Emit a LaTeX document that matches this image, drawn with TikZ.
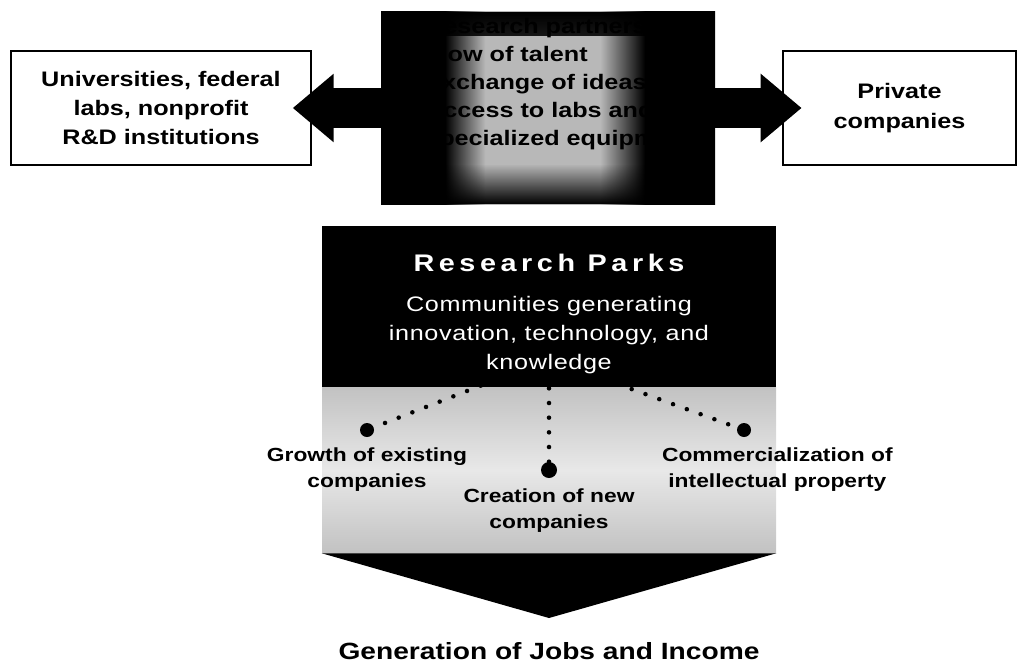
\documentclass[tikz,border=0pt]{standalone}
\usepackage{fontspec}
\setmainfont{Liberation Sans}[FakeStretch=1.2]
\newfontfamily\titlefont{Liberation Sans}[FakeStretch=1.2,LetterSpace=19]
\newfontfamily\subfont{Liberation Sans}[FakeStretch=1.2,LetterSpace=3]
\usetikzlibrary{arrows.meta,positioning,calc,fadings}
\definecolor{glow}{gray}{0.72}
\definecolor{speck}{gray}{0.91}
\definecolor{speckedge}{gray}{0.76}
\pgfdeclarehorizontalshading{darkglow}{100bp}{color(0bp)=(black); color(34.6bp)=(black); color(40.6bp)=(glow); color(57.8bp)=(glow); color(64.5bp)=(black); color(100bp)=(black)}
\tikzfading[name=fadedown,top color=transparent!0,bottom color=transparent!100]
\tikzfading[name=fadeup,top color=transparent!100,bottom color=transparent!0]
\tikzset{
  sidebox/.style={draw=black,line width=1.6pt,fill=white,align=center,inner sep=0pt,font=\fontsize{15.75}{22}\selectfont\bfseries},
  linkbox/.style={shade,shading=darkglow,inner sep=0pt,
    path picture={
      \fill[black,path fading=fadedown] (path picture bounding box.north west) rectangle ([yshift=-18pt]path picture bounding box.north east);
      \fill[black,path fading=fadeup] (path picture bounding box.south west) rectangle ([yshift=30pt]path picture bounding box.south east);}},
  linktext/.style={align=left,inner sep=0pt,text=black,font=\fontsize{15.75}{21}\selectfont\bfseries},
  blockarr/.style={line width=30pt,-{Triangle[length=30.75pt,width=49.5pt]},shorten >=-14.5pt},
  parkbox/.style={fill=black,inner sep=0pt},
  parktitle/.style={text=white,inner sep=0pt,font=\titlefont\fontsize{18}{20}\selectfont\bfseries},
  parksub/.style={text=white,align=center,inner sep=0pt,font=\subfont\fontsize{15.75}{21.75}\selectfont},
  spreadbox/.style={inner sep=0pt,top color=speckedge,bottom color=speckedge,middle color=speck},
  hubdot/.style={circle,fill=black,inner sep=0pt,minimum size=10.5pt},
  dotline/.style={line width=3.4pt,line cap=round,dash pattern=on 0pt off 11pt},
  dotlabel/.style={align=center,inner sep=0pt,font=\fontsize{14.25}{19.5}\selectfont\bfseries},
  goal/.style={inner sep=0pt,font=\fontsize{17.6}{20}\selectfont\bfseries}
}
\begin{document}
\begin{tikzpicture}[x=0.75pt,y=-0.75pt]
\useasboundingbox (0,0) rectangle (1019,667);
% partners and what flows between them
\node[sidebox,minimum width=225pt,minimum height=85.5pt] (uni) at (161,108) {Universities, federal\\labs, nonprofit\\R\&D institutions};
\node[sidebox,line width=1.1pt,minimum width=174.75pt,minimum height=85.5pt] (priv) at (899.5,108) {Private\\companies};
\node[linkbox,minimum width=250.5pt,minimum height=144pt] (links) at (548,108) {};
\node[linktext,anchor=west] (flows) at (425,84) {Research partnerships\\Flow of talent\\Exchange of ideas\\Access to labs and\\specialized equipment};
\draw[blockarr] (links.west) -- (uni.east);
\draw[blockarr] (links.east) -- (priv.west);
% outcomes
\node[spreadbox,minimum width=340.5pt,minimum height=124.5pt] (spread) at (549,470) {};
\coordinate (apex) at (549,618);
\fill (spread.south west) -- (spread.south east) -- (apex) -- cycle;
\node[hubdot] (gdot) at (367,430) {};
\node[hubdot,minimum size=12pt] (cdot) at (549,470) {};
\node[hubdot] (mdot) at (744,430) {};
\coordinate (hub) at (549,359);
\foreach \d in {gdot,cdot,mdot}\draw[dotline] (hub)--(\d);
\node[parkbox,minimum width=340.5pt,minimum height=120.75pt] (park) at (549,306.5) {};
\node[parktitle] (ptitle) at (549,263) {Research Parks};
\node[parksub] (psub) at (549,335) {Communities generating\\innovation, technology, and\\knowledge};
\node[dotlabel,below=8pt of gdot] (glabel) {Growth of existing\\companies};
\node[dotlabel,below=8pt of cdot] (clabel) {Creation of new\\companies};
\node[dotlabel,below=8pt of mdot,xshift=25pt] (mlabel) {Commercialization of\\intellectual property};
\node[goal,below=18pt of apex] (jobs) {Generation of Jobs and Income};
\end{tikzpicture}
\end{document}
